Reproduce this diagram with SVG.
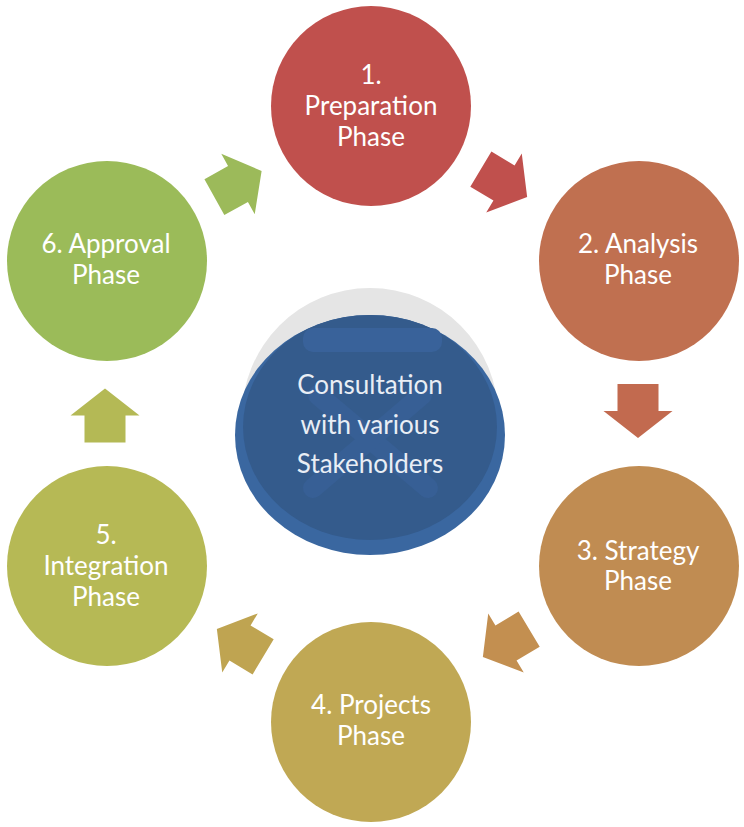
<svg xmlns="http://www.w3.org/2000/svg" width="744" height="827" viewBox="0 0 744 827">
<style>
.lbl{font-family:Lato,"Noto Sans","Liberation Sans",sans-serif;font-size:26px;fill:#ffffff;text-anchor:middle}
.clbl{font-family:Lato,"Noto Sans","Liberation Sans",sans-serif;font-size:26px;fill:#e9eef5;text-anchor:middle}
</style>
<defs>
<path id="arr" d="M-27,-20.5 L0,-20.5 L0,-34.5 L27,0 L0,34.5 L0,20.5 L-27,20.5 Z"/>
<clipPath id="cc"><ellipse cx="370" cy="435" rx="135" ry="120"/></clipPath>
</defs>
<rect width="744" height="827" fill="#ffffff"/>
<g id="connectors">
<use href="#arr" transform="translate(504,183) rotate(31)" fill="#c0504d"/>
<use href="#arr" transform="translate(638,411) rotate(90)" fill="#c26a4f"/>
<use href="#arr" transform="translate(506,643) rotate(149)" fill="#c38f50"/>
<use href="#arr" transform="translate(240,643) rotate(211)" fill="#bfa451"/>
<use href="#arr" transform="translate(105,415.5) rotate(-90)" fill="#b4b955"/>
<use href="#arr" transform="translate(238,184) rotate(-29)" fill="#9cba5a"/>
</g>
<g id="center">
<circle cx="370" cy="416" r="128" fill="#e5e5e5"/>
<ellipse cx="370" cy="435" rx="135" ry="120" fill="#3a67a0"/>
<ellipse cx="370" cy="427" rx="127" ry="113" fill="#345b8c" clip-path="url(#cc)"/>
<rect x="303" y="328" width="139" height="24" rx="10" fill="#39629a"/>
<g stroke="#375f95" stroke-width="20" stroke-linecap="round">
<line x1="318" y1="395" x2="428" y2="488"/>
<line x1="422" y1="395" x2="313" y2="488"/>
</g>
<text class="clbl" x="370" y="394">Consultation</text>
<text class="clbl" x="370" y="434">with various</text>
<text class="clbl" x="370" y="473">Stakeholders</text>
</g>
<g id="n1">
<circle cx="371" cy="106" r="100" fill="#c0504d"/>
<text class="lbl" x="371" y="84">1.</text>
<text class="lbl" x="371" y="115">Preparation</text>
<text class="lbl" x="371" y="146">Phase</text>
</g>
<g id="n2">
<circle cx="639" cy="261" r="100" fill="#c07050"/>
<text class="lbl" x="638" y="253">2. Analysis</text>
<text class="lbl" x="638" y="284">Phase</text>
</g>
<g id="n3">
<circle cx="639" cy="566" r="100" fill="#c08c52"/>
<text class="lbl" x="638" y="560">3. Strategy</text>
<text class="lbl" x="638" y="590">Phase</text>
</g>
<g id="n4">
<circle cx="371" cy="722" r="100" fill="#c0a854"/>
<text class="lbl" x="371" y="714">4. Projects</text>
<text class="lbl" x="371" y="745">Phase</text>
</g>
<g id="n5">
<circle cx="107" cy="566" r="100" fill="#b6b955"/>
<text class="lbl" x="106" y="544">5.</text>
<text class="lbl" x="106" y="575">Integration</text>
<text class="lbl" x="106" y="606">Phase</text>
</g>
<g id="n6">
<circle cx="107" cy="261" r="100" fill="#9bbb59"/>
<text class="lbl" x="106" y="253">6. Approval</text>
<text class="lbl" x="106" y="284">Phase</text>
</g>
</svg>
